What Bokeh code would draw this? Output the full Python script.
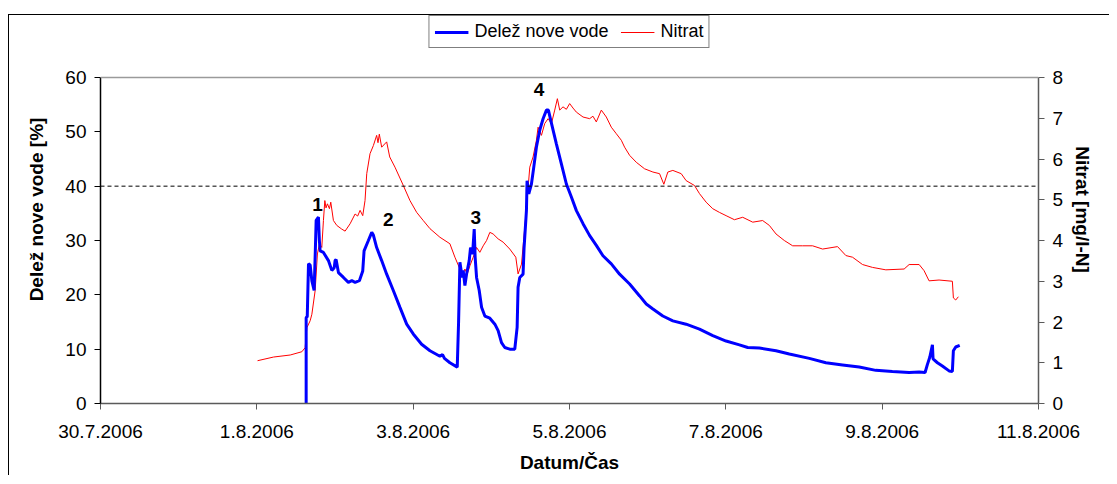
import datetime as dt
from bokeh.plotting import figure
from bokeh.models import (Range1d, LinearAxis, FixedTicker, CustomJSTickFormatter,
                          Span, Legend, LegendItem, ColumnDataSource)
from bokeh.core.properties import value
from bokeh.embed import file_html
from bokeh.resources import INLINE

START = dt.datetime(2006, 7, 30)

# --- data: time in days since 30.7.2006 00:00 ---
blue_days = [2.631, 2.631, 2.645, 2.661, 2.682, 2.705, 2.733, 2.748, 2.759, 2.788, 2.800, 2.810,
             2.852, 2.916, 2.959, 2.990, 3.001, 3.014, 3.044, 3.108, 3.171, 3.215, 3.257, 3.312,
             3.355, 3.372, 3.427, 3.470, 3.491, 3.533, 3.597, 3.661, 3.746, 3.831, 3.917, 4.001,
             4.108, 4.215, 4.342, 4.376, 4.400, 4.470, 4.564, 4.581, 4.598, 4.627, 4.640, 4.662,
             4.683, 4.717, 4.734, 4.760, 4.781, 4.793, 4.811, 4.845, 4.875, 4.917, 4.981, 5.045,
             5.087, 5.130, 5.172, 5.236, 5.300, 5.330, 5.342, 5.364, 5.406, 5.419, 5.449, 5.457,
             5.479, 5.513, 5.543, 5.577, 5.619, 5.662, 5.705, 5.730, 5.756, 5.790, 5.832, 5.896,
             5.960, 6.024, 6.088, 6.173, 6.258, 6.343, 6.428, 6.535, 6.641, 6.769, 6.897, 6.982,
             7.067, 7.194, 7.322, 7.492, 7.663, 7.833, 8.003, 8.174, 8.280, 8.429, 8.642, 8.812,
             9.068, 9.280, 9.493, 9.706, 9.919, 10.131, 10.345, 10.473, 10.549, 10.579, 10.609,
             10.643, 10.651, 10.707, 10.770, 10.856, 10.898, 10.911, 10.941, 10.992]
blue_pct = [0.0, 15.8, 16.0, 25.7, 25.5, 22.5, 20.8, 28.0, 33.7, 34.3, 30.0, 28.1,
            27.8, 26.3, 24.5, 25.0, 26.3, 26.5, 24.1, 23.2, 22.3, 22.6, 22.3, 22.6,
            24.4, 28.1, 30.0, 31.5, 31.0, 28.7, 26.3, 23.8, 20.8, 17.7, 14.6, 12.8,
            10.9, 9.7, 8.7, 9.0, 8.3, 7.5, 6.7, 15.0, 26.0, 23.2, 24.5, 21.7,
            23.8, 26.3, 28.7, 27.5, 32.1, 26.9, 23.2, 20.8, 17.7, 16.1, 15.7, 14.6,
            13.4, 11.2, 10.3, 10.0, 10.0, 14.0, 21.4, 23.2, 23.8, 28.7, 35.5, 41.0,
            38.6, 40.4, 43.5, 47.2, 50.3, 52.4, 54.0, 54.0, 52.4, 50.3, 47.8, 44.1,
            40.4, 38.0, 35.5, 33.1, 30.9, 29.1, 27.2, 25.7, 23.8, 22.0, 19.8, 18.3,
            17.4, 16.1, 15.2, 14.6, 13.7, 12.5, 11.5, 10.8, 10.3, 10.2, 9.7, 9.1,
            8.3, 7.5, 7.1, 6.7, 6.1, 5.9, 5.7, 5.8, 5.7, 7.2, 8.5,
            10.8, 8.2, 7.5, 6.9, 6.0, 5.9, 9.7, 10.4, 10.7]

red_days = [2.009, 2.214, 2.427, 2.576, 2.618, 2.640, 2.682, 2.704, 2.746, 2.775, 2.801, 2.831,
            2.852, 2.870, 2.885, 2.903, 2.929, 2.946, 2.980, 3.023, 3.086, 3.129, 3.193, 3.257,
            3.290, 3.321, 3.355, 3.384, 3.406, 3.448, 3.491, 3.533, 3.550, 3.567, 3.597, 3.661,
            3.700, 3.767, 3.874, 3.959, 4.045, 4.129, 4.215, 4.342, 4.470, 4.534, 4.598, 4.627,
            4.662, 4.692, 4.726, 4.768, 4.811, 4.853, 4.896, 4.939, 4.981, 5.023, 5.087, 5.151,
            5.236, 5.313, 5.342, 5.386, 5.428, 5.457, 5.492, 5.534, 5.577, 5.598, 5.641, 5.683,
            5.726, 5.769, 5.811, 5.845, 5.875, 5.917, 5.960, 6.002, 6.045, 6.088, 6.173, 6.258,
            6.300, 6.343, 6.407, 6.471, 6.535, 6.599, 6.663, 6.705, 6.769, 6.854, 6.960, 7.067,
            7.152, 7.207, 7.258, 7.322, 7.429, 7.492, 7.599, 7.663, 7.748, 7.833, 7.918, 8.003,
            8.110, 8.216, 8.344, 8.471, 8.557, 8.642, 8.748, 8.855, 8.982, 9.110, 9.238, 9.429,
            9.536, 9.621, 9.749, 9.876, 10.047, 10.281, 10.345, 10.473, 10.536, 10.600, 10.728,
            10.898, 10.911, 10.941, 10.975]
red_mgl = [1.05, 1.14, 1.19, 1.27, 1.37, 1.86, 2.03, 2.19, 2.77, 3.67, 3.92, 3.83,
           4.49, 4.98, 4.80, 4.90, 4.78, 4.94, 4.49, 4.37, 4.28, 4.23, 4.41, 4.65,
           4.60, 4.74, 4.61, 4.98, 5.64, 6.13, 6.33, 6.58, 6.40, 6.61, 6.29, 6.42,
           6.05, 5.80, 5.35, 4.98, 4.69, 4.49, 4.29, 4.08, 3.92, 3.59, 3.30, 3.14,
           3.30, 3.18, 3.38, 3.59, 3.83, 3.71, 3.87, 4.00, 4.20, 4.16, 4.04, 3.96,
           3.79, 3.59, 3.18, 3.42, 4.32, 4.98, 5.80, 6.05, 6.46, 6.78, 6.58, 6.87,
           6.99, 6.87, 7.20, 7.48, 7.20, 7.28, 7.22, 7.36, 7.25, 7.15, 7.03, 6.99,
           7.05, 6.91, 7.20, 7.03, 6.78, 6.62, 6.46, 6.29, 6.09, 5.92, 5.76, 5.68,
           5.64, 5.38, 5.68, 5.72, 5.64, 5.47, 5.35, 5.15, 4.94, 4.78, 4.69, 4.61,
           4.51, 4.57, 4.45, 4.49, 4.37, 4.16, 4.00, 3.87, 3.87, 3.87, 3.79, 3.85,
           3.63, 3.59, 3.41, 3.34, 3.28, 3.30, 3.41, 3.41, 3.26, 3.01, 3.03,
           3.00, 2.59, 2.54, 2.62]

event_labels = ["1", "2", "3", "4"]
event_days = [2.775, 3.682, 4.802, 5.611]
event_pct = [36.7, 33.8, 34.3, 57.8]

tick_days = [0, 2, 4, 6, 8, 10, 12]
left_ticks = [0, 10, 20, 30, 40, 50, 60]
right_ticks = [0, 1, 2, 3, 4, 5, 6, 7, 8]
threshold_pct = 40

series1_name = "Delež nove vode"
series2_name = "Nitrat"


def to_dt(days):
    return [START + dt.timedelta(days=d) for d in days]


FONT = "Liberation Sans"
FS = "19px"

# the frame also holds the legend strip above the 60 % line
PLOT_H = 326          # px between 0 and 60 on the left axis
FRAME_H = 388         # px of the whole frame (incl. legend strip)
top_left = left_ticks[-1] * FRAME_H / PLOT_H
top_right = right_ticks[-1] * FRAME_H / PLOT_H

p = figure(frame_width=938, frame_height=FRAME_H, x_axis_type="datetime",
           output_backend="svg", toolbar_location=None,
           x_range=Range1d(START, START + dt.timedelta(days=12)),
           y_range=Range1d(0, top_left),
           min_border_left=91, min_border_right=71, min_border_top=0, min_border_bottom=72,
           background_fill_color="white", border_fill_color="white")
p.styles = {"margin-top": "14px", "margin-left": "8px",
            "border-top": "1px solid #000000", "border-left": "1px solid #000000"}
p.grid.visible = False
p.outline_line_color = None

p.extra_y_ranges = {"nit": Range1d(0, top_right)}

# x axis
xa = p.xaxis[0]
xa.ticker = FixedTicker(ticks=[(START + dt.timedelta(days=d)).timestamp() * 1000 for d in tick_days])
xa.formatter = CustomJSTickFormatter(code="""
const d = new Date(tick);
return d.getUTCDate() + "." + (d.getUTCMonth() + 1) + "." + d.getUTCFullYear();
""")
xa.axis_label = "Datum/Čas"

ya = p.yaxis[0]
ya.ticker = FixedTicker(ticks=left_ticks)
ya.bounds = (left_ticks[0], left_ticks[-1])
ya.axis_label = "Delež nove vode [%]"

ra = LinearAxis(y_range_name="nit", axis_label="Nitrat [mg/l-N]",
                ticker=FixedTicker(ticks=right_ticks),
                bounds=(right_ticks[0], right_ticks[-1]))
p.add_layout(ra, "right")

for ax, col in ((xa, "#5a5a5a"), (ya, "#000000"), (ra, "#5a5a5a")):
    ax.axis_line_color = col
    ax.axis_line_width = 1.5
    ax.major_tick_line_color = col
    ax.major_tick_out = 6
    ax.major_tick_in = 0
    ax.minor_tick_line_color = None
    ax.major_label_text_font = FONT
    ax.major_label_text_font_size = FS
    ax.major_label_text_color = "black"
    ax.major_label_standoff = 8
    ax.axis_label_text_font = FONT
    ax.axis_label_text_font_size = FS
    ax.axis_label_text_font_style = "bold"
    ax.axis_label_text_color = "black"

xa.major_label_standoff = 15
xa.axis_label_standoff = 11
ya.axis_label_standoff = 15
ra.axis_label_standoff = 6

# top edge of the plot area (at 60 %)
p.add_layout(Span(location=left_ticks[-1], dimension="width", line_color="#9a9a9a",
                  line_width=1.5))
# dashed threshold line
p.add_layout(Span(location=threshold_pct, dimension="width", line_color="black",
                  line_width=1, line_dash="4 3"))

src_b = ColumnDataSource(dict(t=to_dt(blue_days), v=blue_pct))
src_r = ColumnDataSource(dict(t=to_dt(red_days), v=red_mgl))

r_red = p.line("t", "v", source=src_r, line_color="#ff0000", line_width=1,
               y_range_name="nit")
r_blue = p.line("t", "v", source=src_b, line_color="#0000ff", line_width=3)

src_e = ColumnDataSource(dict(t=to_dt(event_days), v=event_pct, lab=event_labels))
p.text("t", "v", text="lab", source=src_e, text_font=value(FONT),
       text_font_size=FS, text_font_style="bold", text_align="center",
       text_baseline="middle", text_color="black")

legend = Legend(items=[LegendItem(label=series1_name, renderers=[r_blue]),
                       LegendItem(label=series2_name, renderers=[r_red])],
                orientation="horizontal", location="top_center")
legend.border_line_color = "black"
legend.border_line_width = 1
legend.background_fill_color = "white"
legend.background_fill_alpha = 1
legend.label_text_font = FONT
legend.label_text_font_size = "18px"
legend.label_text_color = "black"
legend.glyph_width = 34
legend.glyph_height = 20
legend.label_standoff = 6
legend.spacing = 12
legend.padding = 5
legend.margin = 0
p.add_layout(legend, "center")

open("out.html", "w").write(file_html(p, INLINE))
